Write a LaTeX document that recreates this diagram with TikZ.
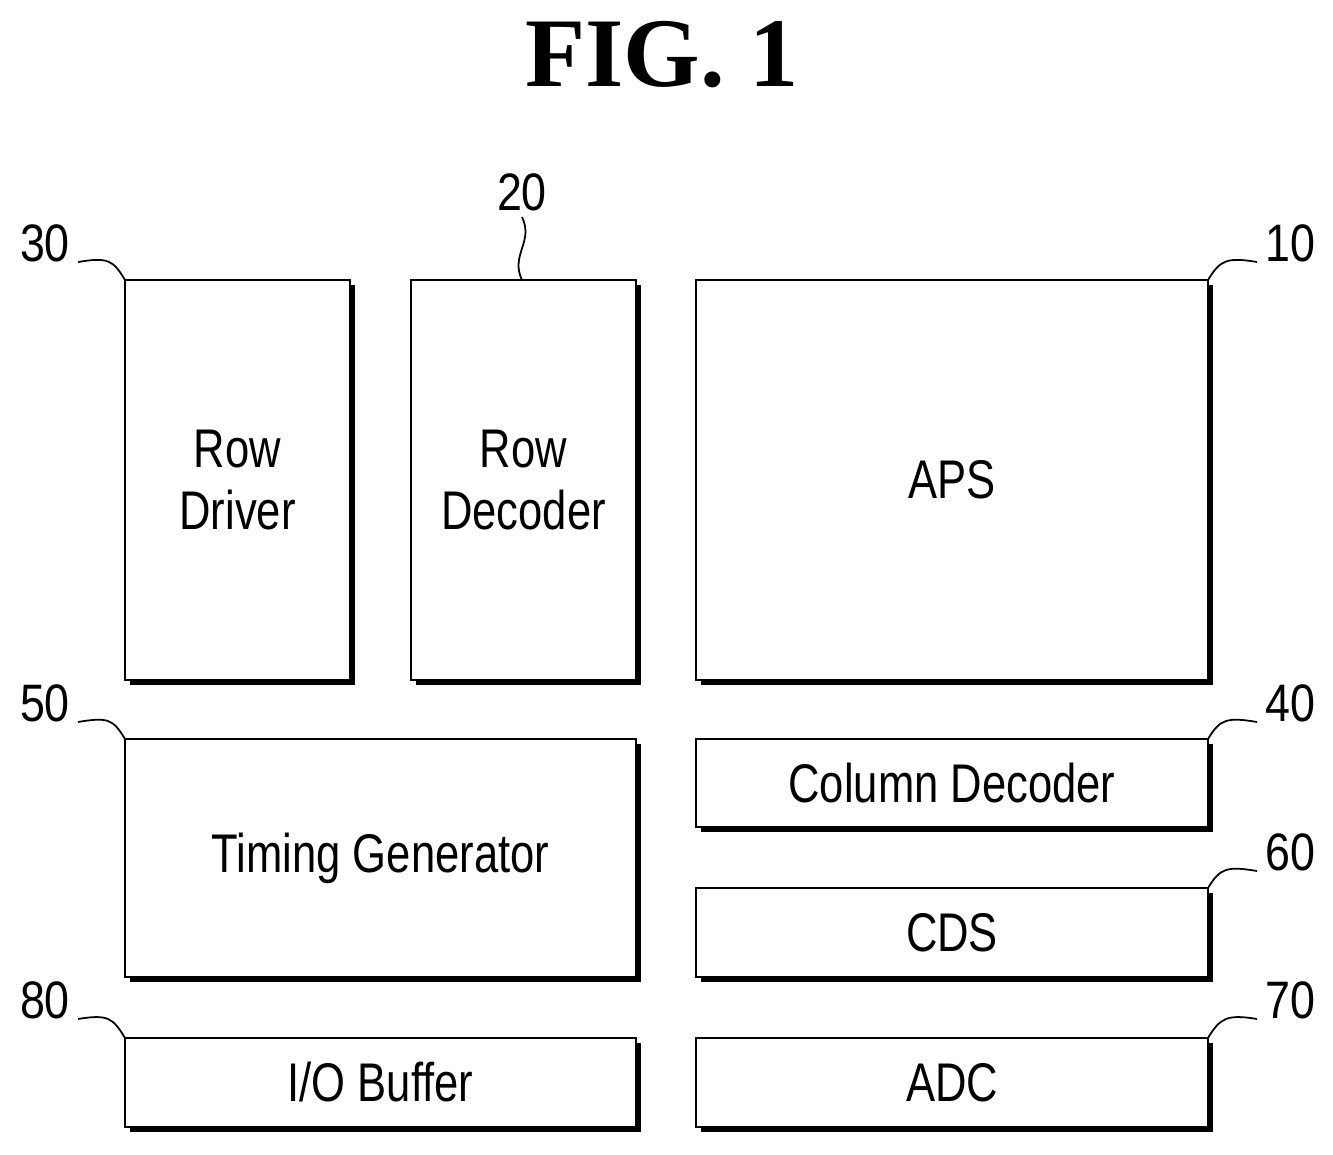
\documentclass[tikz,border=0pt]{standalone}
\usepackage{fontspec}
\setmainfont{Liberation Sans}
\newfontfamily\titlefont{Liberation Serif}
\usetikzlibrary{shadows}
\begin{document}
\begin{tikzpicture}[x=0.02cm,y=-0.02cm,
 blk/.style={draw,line width=1.3pt,fill=white,general shadow={fill=black,shadow xshift=0.1cm,shadow yshift=-0.1cm}},
 txt/.style={font=\fontsize{31}{35}\selectfont,xscale=0.8,align=center,inner sep=0},
 num/.style={font=\fontsize{30}{32}\selectfont,xscale=0.85,inner sep=0},
 lead/.style={line width=1pt}]
\useasboundingbox (0,0) rectangle (1333,1154);
\node[font=\titlefont\bfseries\fontsize{56}{60}\selectfont] (title) at (662,55) {FIG. 1};
\newcommand{\blkbox}[6]{\filldraw[blk] (#1,#2) rectangle (#3,#4); \node[txt] (#5) at ({(#1+#3)/2},{(#2+#4)/2}) {#6};}
\blkbox{125}{280}{350}{680}{rd}{Row\\Driver}
\blkbox{411}{280}{636}{680}{rdec}{Row\\Decoder}
\blkbox{696}{280}{1208}{680}{aps}{APS}
\blkbox{125}{739}{636}{977}{tg}{Timing Generator}
\blkbox{696}{739}{1208}{827}{cd}{Column Decoder}
\blkbox{696}{888}{1208}{977}{cds}{CDS}
\blkbox{125}{1038}{636}{1127}{io}{I/O Buffer}
\blkbox{696}{1038}{1208}{1127}{adc}{ADC}
\node[num] (n30) at (45,243) {30};
\node[num] (n20) at (522,192) {20};
\node[num] (n10) at (1290,243) {10};
\node[num] (n50) at (45,703) {50};
\node[num] (n40) at (1290,703) {40};
\node[num] (n60) at (1290,852) {60};
\node[num] (n80) at (45,1000) {80};
\node[num] (n70) at (1290,1000) {70};
\coordinate (c30) at (125,280); \coordinate (c20) at (522,280); \coordinate (c10) at (1208,280);
\coordinate (c50) at (125,739); \coordinate (c40) at (1208,739); \coordinate (c60) at (1208,888);
\coordinate (c80) at (125,1038); \coordinate (c70) at (1208,1038);
\newcommand{\lleft}[2]{\draw[lead] ([xshift=0.66cm,yshift=-0.38cm]#1.center) .. controls +(30,-5) and +(-12,-20) .. (#2);}
\newcommand{\lright}[2]{\draw[lead] ([xshift=-0.66cm,yshift=-0.38cm]#1.center) .. controls +(-30,-5) and +(12,-20) .. (#2);}
\lleft{n30}{c30}\lleft{n50}{c50}\lleft{n80}{c80}
\lright{n10}{c10}\lright{n40}{c40}\lright{n60}{c60}\lright{n70}{c70}
\draw[lead] ([yshift=-0.5cm]n20.center) .. controls +(12,25) and +(-12,-25) .. (c20);
\end{tikzpicture}
\end{document}
